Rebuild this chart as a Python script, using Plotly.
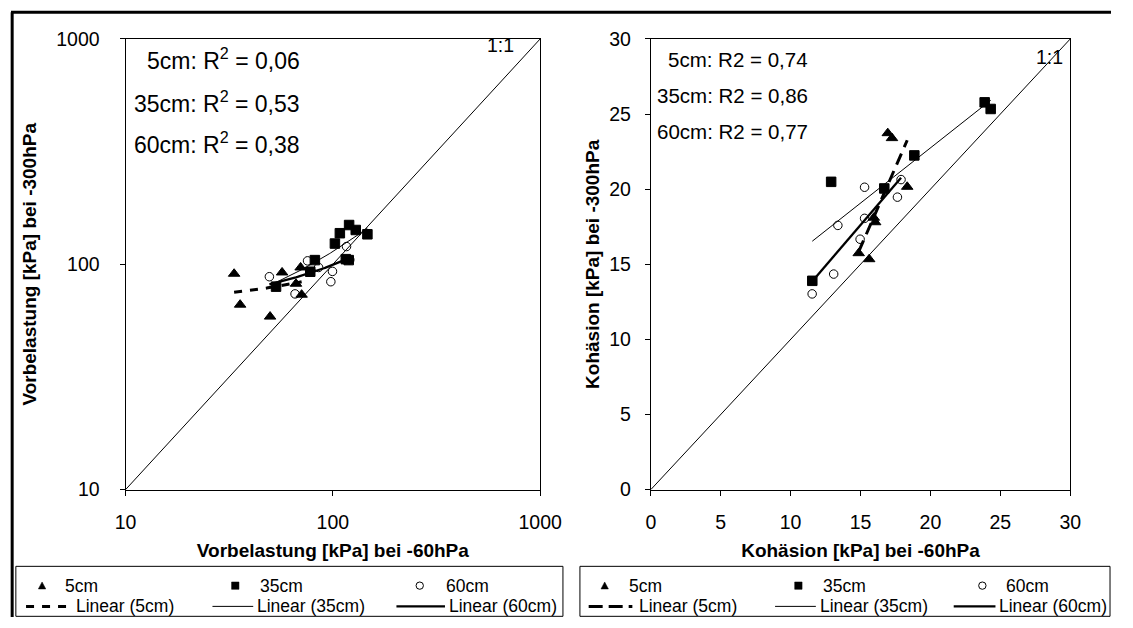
import numpy as np
import plotly.graph_objects as go

W, H = 1133, 628
FONT = "Liberation Sans, Arial, sans-serif"

# ---------------- data ----------------
# Left panel: Vorbelastung [kPa], -60 hPa (x) vs -300 hPa (y)
vb_x_5 = [33.4, 35.7, 49.8, 56.9, 69.9, 70.7, 66.4]
vb_y_5 = [90.8, 66.2, 58.6, 92.0, 96.8, 73.3, 82.0]
vb_x_35 = [119.8, 108.1, 129.0, 146.8, 102.3, 115.5, 119.3, 81.9, 77.8, 53.2]
vb_y_35 = [149.4, 137.4, 142.0, 135.9, 123.6, 105.4, 104.4, 104.4, 92.7, 79.6]
vb_x_60 = [49.4, 75.5, 116.4, 120.7, 99.6, 97.8, 65.7, 85.4]
vb_y_60 = [88.1, 103.6, 119.9, 104.7, 93.0, 83.7, 73.9, 96.8]
vb_one = [10, 1000]

# Right panel: Kohäsion [kPa], -60 hPa (x) vs -300 hPa (y)
ko_x_5 = [16.95, 17.25, 18.34, 15.95, 16.05, 14.87, 15.62]
ko_y_5 = [23.73, 23.40, 20.16, 18.10, 17.80, 15.74, 15.34]
ko_x_35 = [23.88, 24.31, 18.85, 16.70, 12.90, 11.55]
ko_y_35 = [25.78, 25.34, 22.25, 20.05, 20.49, 13.90]
ko_x_60 = [15.29, 17.90, 17.64, 15.29, 13.38, 14.97, 13.08, 11.54]
ko_y_60 = [20.13, 20.64, 19.47, 18.06, 17.59, 16.67, 14.35, 13.03]
ko_one = [0, 30]

vb_r2 = ["5cm: R<sup>2</sup> = 0,06", "35cm: R<sup>2</sup> = 0,53", "60cm: R<sup>2</sup> = 0,38"]
ko_r2 = ["5cm: R2 = 0,74", "35cm: R2 = 0,86", "60cm: R2 = 0,77"]
depths = ["5cm", "35cm", "60cm"]

fig = go.Figure()


def trend(x, y, n=60):
    b, a = np.polyfit(np.asarray(x, float), np.asarray(y, float), 1)
    xs = np.linspace(min(x), max(x), n)
    return xs, a + b * xs


def panel(xa, ya, data, dash5):
    (x5, y5), (x35, y35), (x60, y60), one = data
    fig.add_trace(go.Scatter(x=one, y=one, mode="lines", line=dict(color="black", width=1),
                             xaxis=xa, yaxis=ya, showlegend=False, name="1:1"))
    for (x, y), sym, sz, nm in [((x5, y5), "triangle-up", 10, "5cm"),
                                ((x35, y35), "square", 9.5, "35cm"),
                                ((x60, y60), "circle-open", 8.5, "60cm")]:
        fig.add_trace(go.Scatter(x=x, y=y, mode="markers", xaxis=xa, yaxis=ya, showlegend=False, name=nm,
                                 marker=dict(symbol=sym, size=sz, color="black",
                                             line=dict(color="black", width=1))))
    for (x, y), w, d, nm in [((x5, y5), 3, dash5, "Linear (5cm)"), ((x35, y35), 1, "solid", "Linear (35cm)"),
                             ((x60, y60), 2.3, "solid", "Linear (60cm)")]:
        xs, ys = trend(x, y)
        fig.add_trace(go.Scatter(x=xs, y=ys, mode="lines", xaxis=xa, yaxis=ya, showlegend=False, name=nm,
                                 line=dict(color="black", width=w, dash=d)))


panel("x", "y", ((vb_x_5, vb_y_5), (vb_x_35, vb_y_35), (vb_x_60, vb_y_60), vb_one), "8px,8px")
panel("x2", "y2", ((ko_x_5, ko_y_5), (ko_x_35, ko_y_35), (ko_x_60, ko_y_60), ko_one), "12px,7px")

tickfont = dict(family=FONT, size=19.5, color="black")
titlefont = dict(family=FONT, size=19, color="black")
common = dict(ticks="outside", ticklen=5, tickwidth=1, tickcolor="black", showline=True,
              linecolor="black", linewidth=1, mirror=True, showgrid=False, zeroline=False,
              tickfont=tickfont)

ydom = [1 - 496 / H, 1 - 29 / H]
fig.update_layout(
    width=W, height=H, margin=dict(l=0, r=0, t=0, b=0),
    paper_bgcolor="white", plot_bgcolor="white", showlegend=False,
    font=dict(family=FONT, color="black"),
    xaxis=dict(type="log", range=[1, 3], domain=[118 / W, 545 / W], anchor="y",
               tickvals=[10, 100, 1000], ticktext=["10", "100", "1000"], ticklabelstandoff=10,
               title=dict(text="<b>Vorbelastung [kPa] bei -60hPa</b>", font=titlefont, standoff=11), **common),
    yaxis=dict(type="log", range=[1, 3], domain=ydom, anchor="x",
               tickvals=[10, 100, 1000], ticktext=["10", "100", "1000"], ticklabelstandoff=16,
               title=dict(text="<b>Vorbelastung [kPa] bei -300hPa</b>", font=titlefont, standoff=14), **common),
    xaxis2=dict(range=[0, 30], dtick=5, domain=[659 / W, 1091 / W], anchor="y2", ticklabelstandoff=10,
                title=dict(text="<b>Kohäsion [kPa] bei -60hPa</b>", font=titlefont, standoff=11), **common),
    yaxis2=dict(range=[0, 30], dtick=5, domain=ydom, anchor="x2", ticklabelstandoff=10,
                title=dict(text="<b>Kohäsion [kPa] bei -300hPa</b>", font=titlefont, standoff=4), **common),
)

ann = []
shapes = []


def px(x):
    return x / W


def py(y):
    return 1 - y / H


for t, yy in zip(vb_r2, [49.5, 94.0, 137.3]):
    ann.append(dict(x=px(300), y=py(yy), xref="paper", yref="paper", text=t, showarrow=False,
                    xanchor="right", yanchor="middle", font=dict(family=FONT, size=23, color="black")))
for t, yy in zip(ko_r2, [50.6, 87.7, 124.9]):
    ann.append(dict(x=px(823), y=py(yy), xref="paper", yref="paper", text=t, showarrow=False,
                    xanchor="right", yanchor="middle", font=dict(family=FONT, size=20.5, color="black")))
ann.append(dict(x=px(504), y=py(35), xref="paper", yref="paper", text="1:1", showarrow=False,
                xanchor="center", yanchor="middle", font=dict(family=FONT, size=19.5, color="black")))
ann.append(dict(x=px(1070), y=py(47.5), xref="paper", yref="paper", text="1:1", showarrow=False,
                xanchor="center", yanchor="middle", font=dict(family=FONT, size=19.5, color="black")))

# outer chart border (top and left)
shapes.append(dict(type="line", xref="paper", yref="paper", x0=0, x1=1, y0=py(1.2), y1=py(1.2),
                   line=dict(color="black", width=3)))
shapes.append(dict(type="line", xref="paper", yref="paper", x0=px(1.2), x1=px(1.2), y0=py(1.2), y1=0,
                   line=dict(color="black", width=3)))

legfont = dict(family=FONT, size=17.5, color="black")


def sym_shape(kind, cx, cy, r=3.8):
    if kind == 0:
        path = (f"M {px(cx - r)} {py(cy + r * 0.9)} L {px(cx + r)} {py(cy + r * 0.9)} "
                f"L {px(cx)} {py(cy - r)} Z")
        return dict(type="path", xref="paper", yref="paper", path=path, fillcolor="black",
                    line=dict(color="black", width=0.5))
    if kind == 1:
        return dict(type="rect", xref="paper", yref="paper", x0=px(cx - r), x1=px(cx + r),
                    y0=py(cy + r), y1=py(cy - r), fillcolor="black", line=dict(color="black", width=0.5))
    return dict(type="circle", xref="paper", yref="paper", x0=px(cx - r), x1=px(cx + r),
                y0=py(cy + r), y1=py(cy - r), fillcolor="white", line=dict(color="black", width=1))


legends = [
    dict(box=(5, 568.5), sym=[32, 231, 421], txt=[54, 254.5, 445.5],
         lines=[(15.5, 60.5), (207.5, 249.5), (397, 447)], ltxt=[64.5, 251.5, 449.5], dash="8px,8px"),
    dict(box=(586, 1132), sym=[611.5, 811, 1000.5], txt=[634, 834.5, 1023],
         lines=[(595, 640), (787, 829), (971, 1014)], ltxt=[644.5, 831.5, 1016], dash="14px,6px"),
]
row1, row2 = 595.5, 617
for L in legends:
    x0, x1 = L["box"]
    shapes.append(dict(type="rect", xref="paper", yref="paper", x0=px(x0), x1=px(x1), y0=py(627.3), y1=py(575.5),
                       line=dict(color="black", width=1), fillcolor="white", layer="below"))
    for k in range(3):
        shapes.append(sym_shape(k, L["sym"][k], row1))
        ann.append(dict(x=px(L["txt"][k]), y=py(row1), xref="paper", yref="paper", text=depths[k],
                        showarrow=False, xanchor="left", yanchor="middle", font=legfont))
    styles = [(3, L["dash"]), (1, "solid"), (2.3, "solid")]
    for k in range(3):
        a, b = L["lines"][k]
        shapes.append(dict(type="line", xref="paper", yref="paper", x0=px(a), x1=px(b),
                           y0=py(row2), y1=py(row2),
                           line=dict(color="black", width=styles[k][0], dash=styles[k][1])))
        ann.append(dict(x=px(L["ltxt"][k]), y=py(row2), xref="paper", yref="paper",
                        text=f"Linear ({depths[k]})", showarrow=False, xanchor="left", yanchor="middle",
                        font=legfont))

fig.update_layout(annotations=ann, shapes=shapes)
fig.write_html("out.html", config={"displayModeBar": False},
               post_script="document.body.style.margin='0px';document.body.style.overflow='hidden';")
